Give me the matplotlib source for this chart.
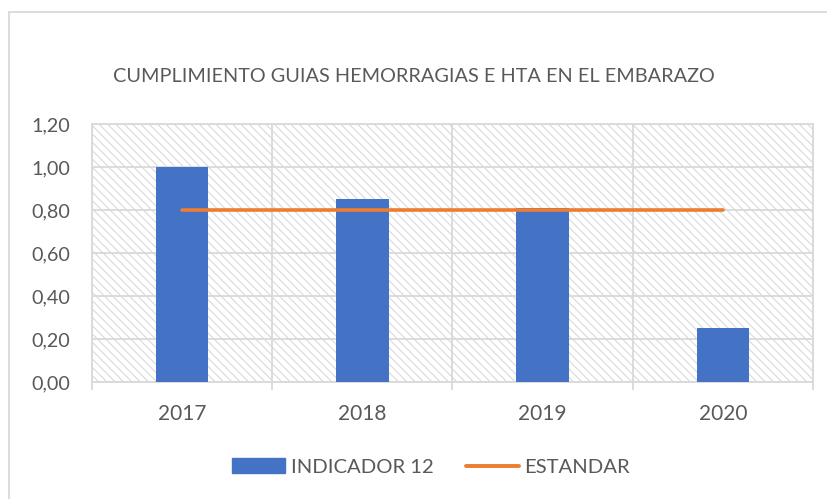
import matplotlib.pyplot as plt
from matplotlib.patches import Rectangle
from matplotlib.lines import Line2D
from matplotlib.ticker import FixedLocator

# data
years = ['2017', '2018', '2019', '2020']
indicador = [1.00, 0.85, 0.81, 0.25]
estandar = [0.80, 0.80, 0.80, 0.80]

plt.rcParams['font.family'] = ['Lato', 'DejaVu Sans']
plt.rcParams['hatch.color'] = '#d0d0d0'
plt.rcParams['hatch.linewidth'] = 0.8

txt = '#595959'
grid = '#d9d9d9'

fig = plt.figure(figsize=(8.28, 4.99), dpi=100)
ax = fig.add_axes([92/828, 1 - 382/499, 721/828, 258/499])

# hatched plot area background
ax.add_patch(Rectangle((0, 0), 1, 1, transform=ax.transAxes, facecolor='white',
                       edgecolor=grid, hatch='\\\\\\\\', linewidth=0, zorder=0))

x = range(len(years))
ax.bar(x, indicador, width=0.29, color='#4472C4', zorder=3, label='INDICADOR 12')
ax.plot(x, estandar, color='#ED7D31', linewidth=2.6, solid_capstyle='round',
        zorder=4, label='ESTANDAR')

ax.set_xlim(-0.5, 3.5)
ax.set_ylim(0, 1.2)
ax.set_yticks([0, 0.2, 0.4, 0.6, 0.8, 1.0, 1.2])
ax.set_yticklabels([f'{v:.2f}'.replace('.', ',') for v in [0, 0.2, 0.4, 0.6, 0.8, 1.0, 1.2]])
ax.set_xticks(list(x))
ax.set_xticklabels(years)
ax.xaxis.set_minor_locator(FixedLocator([-0.5, 0.5, 1.5, 2.5, 3.5]))

ax.grid(axis='y', color=grid, linewidth=1.3, zorder=1)
ax.grid(axis='x', which='minor', color=grid, linewidth=1.3, zorder=1)
ax.set_axisbelow(True)

ax.tick_params(axis='both', which='major', length=0, labelsize=15, colors=txt)
ax.tick_params(axis='y', pad=16, labelsize=14.2)
ax.tick_params(axis='x', pad=16)
ax.tick_params(axis='x', which='minor', length=6, width=1.3, color=grid)
for s in ax.spines.values():
    s.set_color(grid)
    s.set_linewidth(1.3)

fig.text(0.5, 1 - 76/499, 'CUMPLIMIENTO GUIAS HEMORRAGIAS E HTA EN EL EMBARAZO',
         ha='center', va='center', fontsize=14.3, color=txt)

handles = [Rectangle((0, 0), 1, 1, color='#4472C4'),
           Line2D([0], [0], color='#ED7D31', linewidth=2.8, solid_capstyle='round')]
fig.legend(handles, ['INDICADOR 12', 'ESTANDAR'], loc='center',
           bbox_to_anchor=(431/828, 1 - 467/499), ncol=2, frameon=False,
           fontsize=14.6, labelcolor=txt, handlelength=2.6, handletextpad=0.3,
           columnspacing=1.6)

# chart border (only top/left visible in the crop)
fig.add_artist(Rectangle((9/828, -0.1), 1.2, 1 + 0.1 - 12/499, transform=fig.transFigure,
                         fill=False, edgecolor=grid, linewidth=1.3))

fig.savefig('out.png', dpi=100)
